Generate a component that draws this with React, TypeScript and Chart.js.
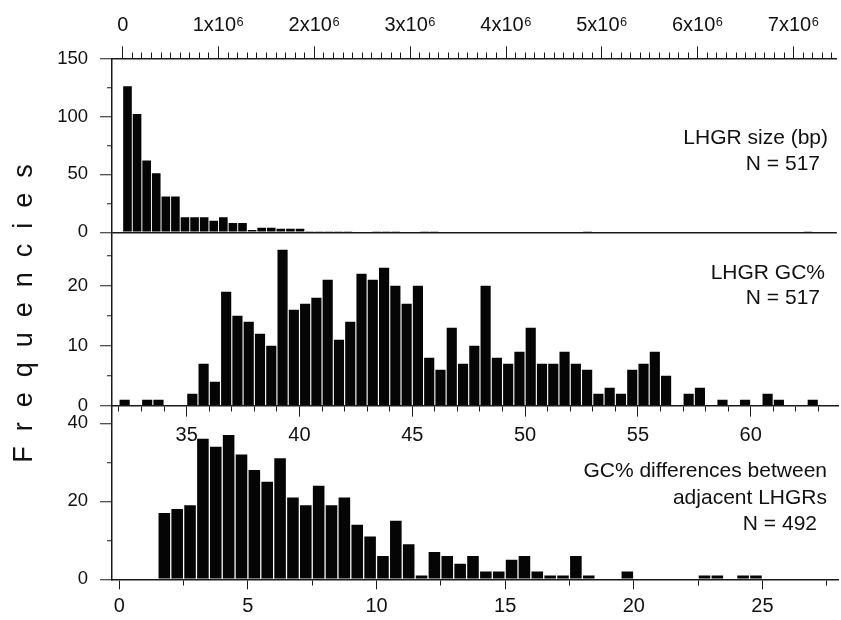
import React, { useEffect, useRef } from 'react';
import { Chart, registerables } from 'chart.js';

Chart.register(...registerables);

// ---------- data ----------
// LHGR size histogram (bp), bins of 100 kb starting at 0
const sizeBinStart = 0;
const sizeBinWidth = 100000;
const sizeCounts = [
  126, 102, 62, 51, 31, 31, 13, 13, 13, 10,
  13, 8, 8, 2, 4, 4, 3, 3, 3, 1,
  1, 1, 1, 1, 0, 0, 1, 1, 1, 0,
  0, 1, 1, 0, 0, 0, 0, 0, 0, 0,
  0, 0, 0, 0, 0, 0, 0, 0, 1, 0,
  0, 0, 0, 0, 0, 0, 0, 0, 0, 0,
  0, 0, 0, 0, 0, 0, 0, 0, 0, 0,
  0, 1, 0, 0, 0,
];
const sizeTickLabels = ['0', '1x10⁶', '2x10⁶', '3x10⁶', '4x10⁶', '5x10⁶', '6x10⁶', '7x10⁶'];
const sizeYLabels = [0, 50, 100, 150];

// LHGR GC% histogram, bins of 0.5 starting at 32
const gcBinStart = 32;
const gcBinWidth = 0.5;
const gcCounts = [
  1, 0, 1, 1, 0, 0, 2, 7, 4, 19,
  15, 14, 12, 10, 26, 16, 17, 18, 21, 11,
  14, 22, 21, 23, 20, 17, 20, 8, 6, 13,
  7, 10, 20, 8, 7, 9, 13, 7, 7, 9,
  7, 6, 2, 3, 2, 6, 7, 9, 5, 0,
  2, 3, 0, 1, 0, 1, 0, 2, 1, 0,
  0, 1,
];
const gcTickLabels = [35, 40, 45, 50, 55, 60];
const gcYLabels = [0, 10, 20];

// GC% differences between adjacent LHGRs, bins of 0.5 starting at 0
const diffBinStart = 0;
const diffBinWidth = 0.5;
const diffCounts = [
  0, 0, 0, 17, 18, 19, 36, 34, 37, 32,
  28, 25, 31, 21, 19, 24, 19, 21, 14, 11,
  6, 15, 9, 1, 7, 6, 4, 6, 2, 2,
  5, 6, 2, 1, 1, 6, 1, 0, 0, 2,
  0, 0, 0, 0, 0, 1, 1, 0, 1, 1,
  0, 0, 0, 0, 0, 0,
];
const diffTickLabels = [0, 5, 10, 15, 20, 25];
const diffYLabels = [0, 20, 40];

// ---------- helpers ----------
const W = 841;
const H = 620;
const AXIS = '#1a1a1a';
const FONT = "'Liberation Sans', Arial, Helvetica, sans-serif";
const MB = 1e6; // the size axis is scaled in units of 10^6 bp

const near = (a: number, b: number) => Math.abs(a - b) < 1e-6;

function toPoints(start: number, width: number, counts: number[], unit = 1) {
  return counts.map((c, i) => ({ x: (start + (i + 0.5) * width) / unit, y: c }));
}

// tick length per tick via dash pattern (outerFirst: the tick is drawn from the outside toward the axis)
function tickDash(outerFirst: boolean, majorLen: number, minorLen: number, isMajor: (v: number) => boolean, hide?: (v: number) => boolean) {
  return (ctx: any) => {
    const v = ctx && ctx.tick ? ctx.tick.value : 0;
    if (hide && hide(v)) return [0, 1000];
    const len = isMajor(v) ? majorLen : minorLen;
    return outerFirst ? [0, majorLen - len, len, 1000] : [len, 1000];
  };
}

interface PanelCfg {
  points: { x: number; y: number }[];
  xMin: number;
  xMax: number;
  xStep: number;
  xPos: 'top' | 'bottom';
  xMajor: (v: number) => boolean;
  xLabel: (v: number) => string;
  xMajorLen: number;
  xMinorLen: number;
  xPad: number;
  xFont: number;
  yMax: number;
  yStep: number;
  yLabels: number[];
  areaTop: number;
  areaBottom: number;
  zeroLine: boolean;
}

function makeChart(canvas: HTMLCanvasElement, p: PanelCfg) {
  const yMajor = (v: number) => p.yLabels.some((l) => near(l, v));
  const xAxisSize = p.xPos === 'top' ? p.areaTop : H - p.areaBottom;
  return new Chart(canvas, {
    type: 'bar',
    data: {
      datasets: [
        {
          data: p.points as any,
          backgroundColor: '#050505',
          borderWidth: 0,
          barPercentage: 0.9,
          categoryPercentage: 1,
        },
      ],
    },
    options: {
      responsive: false,
      animation: false,
      events: [],
      layout: {
        padding: {
          left: 0,
          right: W - 838,
          top: p.xPos === 'top' ? 0 : p.areaTop,
          bottom: p.xPos === 'top' ? H - p.areaBottom : 0,
        },
      },
      plugins: { legend: { display: false }, tooltip: { enabled: false }, title: { display: false } },
      scales: {
        x: {
          type: 'linear',
          position: p.xPos,
          min: p.xMin,
          max: p.xMax,
          offset: false,
          afterFit: (s: any) => {
            s.height = xAxisSize;
          },
          grid: {
            offset: false,
            drawOnChartArea: false,
            drawTicks: true,
            tickLength: p.xMajorLen,
            tickColor: AXIS,
            tickWidth: 1,
            tickBorderDash: tickDash(p.xPos === 'top', p.xMajorLen, p.xMinorLen, p.xMajor, (v) => v < -1e-9) as any,
          },
          border: { display: true, color: AXIS, width: 1.5 },
          ticks: {
            stepSize: p.xStep,
            autoSkip: false,
            includeBounds: false,
            maxRotation: 0,
            minRotation: 0,
            padding: p.xPad,
            color: '#111',
            font: { family: FONT, size: p.xFont },
            callback: (v: any) => p.xLabel(Number(v)),
          },
        },
        y: {
          type: 'linear',
          position: 'left',
          min: 0,
          max: p.yMax,
          afterFit: (s: any) => {
            s.width = 112;
          },
          grid: {
            drawOnChartArea: p.zeroLine,
            color: (c: any) => (p.zeroLine && c.tick && near(c.tick.value, 0) ? AXIS : 'rgba(0,0,0,0)'),
            lineWidth: 1.5,
            drawTicks: true,
            tickLength: 12,
            tickColor: AXIS,
            tickWidth: 1,
            tickBorderDash: tickDash(true, 12, 5, yMajor) as any,
          },
          border: { display: true, color: AXIS, width: 1.5 },
          ticks: {
            stepSize: p.yStep,
            autoSkip: false,
            includeBounds: false,
            padding: 12,
            color: '#111',
            font: { family: FONT, size: 18.5 },
            callback: (v: any) => (yMajor(Number(v)) ? String(v) : ''),
          },
        },
      },
    } as any,
  });
}

const panelText: React.CSSProperties = {
  position: 'absolute',
  fontFamily: FONT,
  fontSize: 21,
  lineHeight: '24px',
  color: '#111',
  whiteSpace: 'nowrap',
  textAlign: 'right',
};

function Label({ text, right, cy }: { text: string; right: number; cy: number }) {
  return <div style={{ ...panelText, right: W - right, top: cy - 12 }}>{text}</div>;
}

export default function App() {
  const c1 = useRef<HTMLCanvasElement>(null);
  const c2 = useRef<HTMLCanvasElement>(null);
  const c3 = useRef<HTMLCanvasElement>(null);

  useEffect(() => {
    const charts: Chart[] = [];
    if (c1.current) {
      charts.push(
        makeChart(c1.current, {
          points: toPoints(sizeBinStart, sizeBinWidth, sizeCounts, MB),
          xMin: -0.1115,
          xMax: 7.451,
          xStep: 0.1,
          xPos: 'top',
          xMajor: (v) => near(v, Math.round(v)),
          xLabel: (v) => {
            if (v < -1e-9 || !near(v, Math.round(v))) return '';
            return sizeTickLabels[Math.round(v)] ?? '';
          },
          xMajorLen: 12,
          xMinorLen: 6,
          xPad: 9,
          xFont: 20,
          yMax: 150,
          yStep: 25,
          yLabels: sizeYLabels,
          areaTop: 58.5,
          areaBottom: 232.3,
          zeroLine: true,
        })
      );
    }
    if (c2.current) {
      charts.push(
        makeChart(c2.current, {
          points: toPoints(gcBinStart, gcBinWidth, gcCounts),
          xMin: 31.69,
          xMax: 63.87,
          xStep: 1,
          xPos: 'bottom',
          xMajor: (v) => near(v / 5, Math.round(v / 5)),
          xLabel: (v) => (gcTickLabels.some((l) => near(l, v)) ? String(v) : ''),
          xMajorLen: 11,
          xMinorLen: 5,
          xPad: 7,
          xFont: 20,
          yMax: 28.9,
          yStep: 5,
          yLabels: gcYLabels,
          areaTop: 232.3,
          areaBottom: 405.7,
          zeroLine: false,
        })
      );
    }
    if (c3.current) {
      charts.push(
        makeChart(c3.current, {
          points: toPoints(diffBinStart, diffBinWidth, diffCounts),
          xMin: -0.284,
          xMax: 27.94,
          xStep: 2.5,
          xPos: 'bottom',
          xMajor: (v) => near(v / 5, Math.round(v / 5)),
          xLabel: (v) => (diffTickLabels.some((l) => near(l, v)) ? String(v) : ''),
          xMajorLen: 10,
          xMinorLen: 5,
          xPad: 5,
          xFont: 20,
          yMax: 44.5,
          yStep: 10,
          yLabels: diffYLabels,
          areaTop: 405.7,
          areaBottom: 579.3,
          zeroLine: false,
        })
      );
    }
    return () => charts.forEach((c) => c.destroy());
  }, []);

  const canvasStyle: React.CSSProperties = { position: 'absolute', left: 0, top: 0, width: W, height: H };

  return (
    <div style={{ position: 'absolute', left: 0, top: 0, width: W, height: H, background: '#fff', overflow: 'hidden' }}>
      <canvas ref={c1} width={W} height={H} style={canvasStyle} />
      <canvas ref={c2} width={W} height={H} style={canvasStyle} />
      <canvas ref={c3} width={W} height={H} style={canvasStyle} />

      <Label text="LHGR size (bp)" right={828} cy={137} />
      <Label text="N = 517" right={820} cy={163} />
      <Label text="LHGR GC%" right={825} cy={272} />
      <Label text="N = 517" right={820} cy={297} />
      <Label text="GC% differences between" right={827} cy={470} />
      <Label text="adjacent LHGRs" right={827} cy={497} />
      <Label text="N = 492" right={817} cy={523} />

      <div
        style={{
          position: 'absolute',
          left: 23 - 170,
          top: 306 - 15,
          width: 340,
          height: 30,
          lineHeight: '30px',
          textAlign: 'center',
          fontFamily: FONT,
          fontSize: 27,
          letterSpacing: 15,
          color: '#111',
          transform: 'rotate(-90deg)',
          whiteSpace: 'nowrap',
        }}
      >
        Frequencies
      </div>
    </div>
  );
}
